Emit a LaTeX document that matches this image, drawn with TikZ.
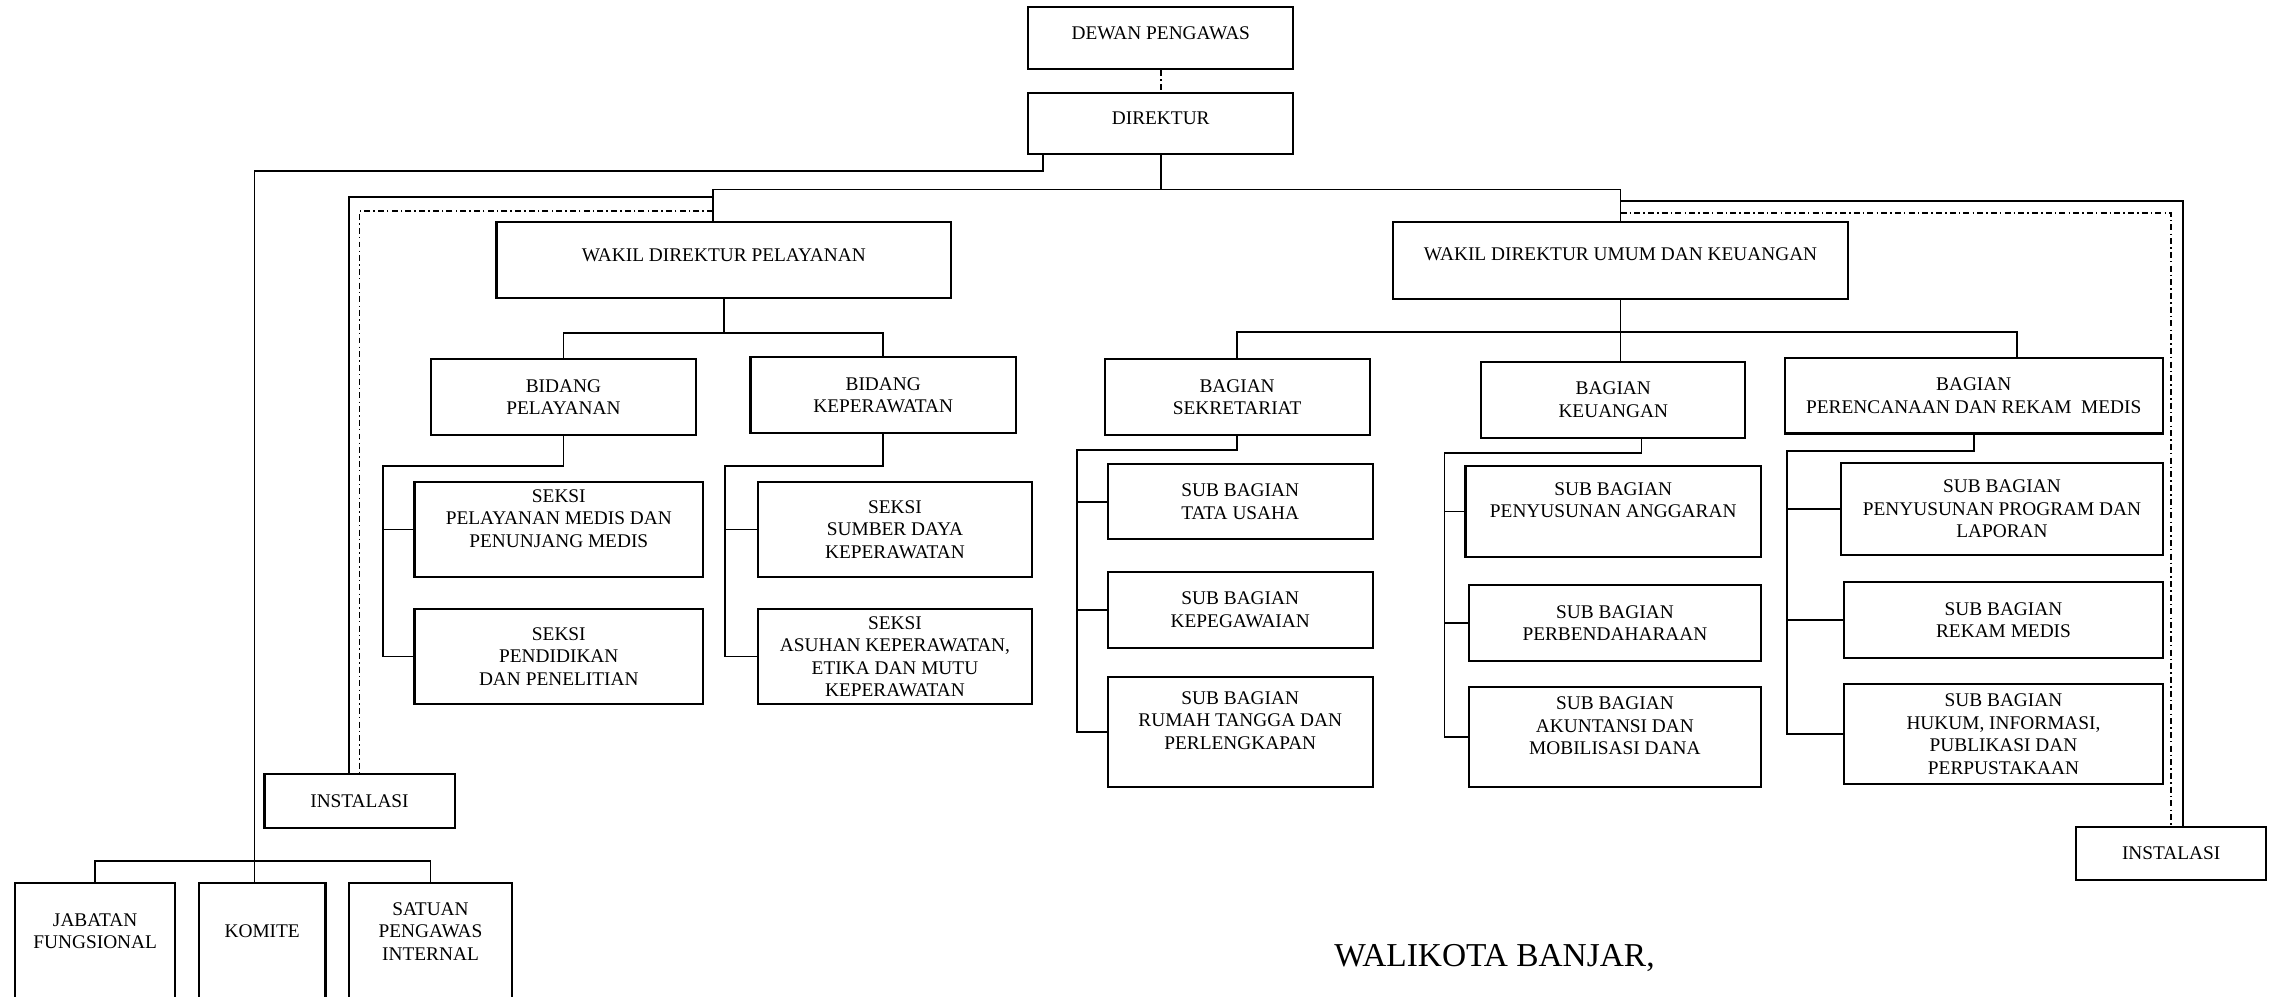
\documentclass[tikz,border=0pt]{standalone}
\usepackage{fontspec}
\setmainfont{Liberation Serif}

\begin{document}
\begin{tikzpicture}[x=0.01cm, y=-0.01cm]
	\tikzstyle{kotak}=[draw=black, line width=0.6pt, align=center, inner sep=0pt, font=\fontsize{5.5}{6.4}\selectfont];
	\tikzstyle{garis}=[line width=0.5pt];
	\tikzstyle{koordinasi}=[line width=0.5pt, dash pattern=on 1.7pt off 0.9pt on 0.4pt off 0.9pt];

	\path[use as bounding box, clip] (0, 0) rectangle (2275, 997);

	\node (dewan) at (1160.75, 38) [kotak, minimum width=2.645cm, minimum height=0.62cm, text depth=2.8pt] {DEWAN PENGAWAS};
	\node (direktur) at (1160.75, 123.5) [kotak, minimum width=2.645cm, minimum height=0.61cm, text depth=3.2pt] {DIREKTUR};
	\node (wakilpel) at (723.8, 260) [kotak, minimum width=4.544cm, minimum height=0.76cm, text depth=2.8pt] {WAKIL DIREKTUR PELAYANAN};
	\node (wakilumum) at (1620.6, 260.5) [kotak, minimum width=4.546cm, minimum height=0.77cm, text depth=3.8pt] {WAKIL DIREKTUR UMUM DAN KEUANGAN};

	\node (bidpel) at (563.4, 397) [kotak, minimum width=2.653cm, minimum height=0.76cm] {BIDANG\\PELAYANAN};
	\node (bidkep) at (883.2, 395) [kotak, minimum width=2.652cm, minimum height=0.76cm] {BIDANG\\KEPERAWATAN};
	\node (seksi1) at (558.8, 529.5) [kotak, minimum width=2.884cm, minimum height=0.95cm] {SEKSI\\PELAYANAN MEDIS DAN\\PENUNJANG MEDIS\\~};
	\node (seksi2) at (558.8, 656.5) [kotak, minimum width=2.884cm, minimum height=0.95cm] {SEKSI\\PENDIDIKAN\\DAN PENELITIAN};
	\node (seksi3) at (895, 529.5) [kotak, minimum width=2.74cm, minimum height=0.95cm] {SEKSI\\SUMBER DAYA\\KEPERAWATAN};
	\node (seksi4) at (895, 656.5) [kotak, minimum width=2.74cm, minimum height=0.95cm] {SEKSI\\ASUHAN KEPERAWATAN,\\ETIKA DAN MUTU\\KEPERAWATAN};

	\node (bagsek) at (1237.1, 397.3) [kotak, minimum width=2.648cm, minimum height=0.76cm] {BAGIAN\\SEKRETARIAT};
	\node (bagkeu) at (1613.3, 399.9) [kotak, minimum width=2.64cm, minimum height=0.757cm] {BAGIAN\\KEUANGAN};
	\node (bagren) at (1973.75, 395.75) [kotak, minimum width=3.775cm, minimum height=0.755cm] {BAGIAN\\PERENCANAAN DAN REKAM \ MEDIS};

	\node (sub1) at (1240.25, 501.7) [kotak, minimum width=2.649cm, minimum height=0.753cm] {SUB BAGIAN\\TATA USAHA};
	\node (sub2) at (1240.25, 609.7) [kotak, minimum width=2.649cm, minimum height=0.76cm] {SUB BAGIAN\\KEPEGAWAIAN};
	\node (sub3) at (1240.25, 731.7) [kotak, minimum width=2.649cm, minimum height=1.1cm] {SUB BAGIAN\\RUMAH TANGGA DAN\\PERLENGKAPAN\\~};
	\node (sub4) at (1613.25, 511.5) [kotak, minimum width=2.953cm, minimum height=0.916cm] {SUB BAGIAN\\PENYUSUNAN ANGGARAN\\~};
	\node (sub5) at (1614.9, 622.9) [kotak, minimum width=2.9225cm, minimum height=0.757cm] {SUB BAGIAN\\PERBENDAHARAAN};
	\node (sub6) at (1614.9, 736.9) [kotak, minimum width=2.9225cm, minimum height=0.997cm] {SUB BAGIAN\\AKUNTANSI DAN\\MOBILISASI DANA\\~};
	\node (sub7) at (2001.95, 509) [kotak, minimum width=3.211cm, minimum height=0.914cm] {SUB BAGIAN\\PENYUSUNAN PROGRAM DAN\\LAPORAN};
	\node (sub8) at (2003.5, 620.2) [kotak, minimum width=3.18cm, minimum height=0.757cm] {SUB BAGIAN\\REKAM MEDIS};
	\node (sub9) at (2003.5, 734.2) [kotak, minimum width=3.18cm, minimum height=0.997cm] {SUB BAGIAN\\HUKUM, INFORMASI,\\PUBLIKASI DAN\\PERPUSTAKAAN};

	\node (inst1) at (359.5, 801) [kotak, minimum width=1.9cm, minimum height=0.54cm] {INSTALASI};
	\node (inst2) at (2171.2, 853.4) [kotak, minimum width=1.896cm, minimum height=0.533cm] {INSTALASI};

	\node (jabatan) at (95.2, 942.5) [kotak, minimum width=1.596cm, minimum height=1.19cm] {JABATAN\\FUNGSIONAL\\~};
	\node (komite) at (262.2, 942.5) [kotak, minimum width=1.265cm, minimum height=1.19cm] {KOMITE\\~};
	\node (satuan) at (430.5, 942.5) [kotak, minimum width=1.63cm, minimum height=1.19cm] {SATUAN\\PENGAWAS\\INTERNAL\\~};

	\node (walikota) at (1494.5, 958.3) [font=\fontsize{9.5}{11}\selectfont] {WALIKOTA BANJAR,};

	\coordinate (barL) at (713, 189.5);
	\coordinate (barR) at (wakilumum.north |- barL);
	\coordinate (dirout) at (1043, 154);
	\coordinate (kom) at (254.6, 171);
	\coordinate (fbar) at (254.6, 861);
	\coordinate (insolidL) at (349, 196.7);
	\coordinate (indashL) at (inst1.north |- 0, 211);
	\coordinate (insolidR) at (2183.3, 200.7);
	\coordinate (indashR) at (inst2.north |- 0, 212.7);
	\coordinate (pbar) at (wakilpel.south |- 0, 333);
	\coordinate (ubar) at (wakilumum.south |- 0, 332);
	\coordinate (pspine) at (383, 466);
	\coordinate (kspine) at (724.7, 465.7);
	\coordinate (sspine) at (1077.3, 450);
	\coordinate (kuspine) at (1444.5, 453);
	\coordinate (rspine) at (1786.7, 451);

	\draw[koordinasi] (dewan) -- (direktur);
	\draw[garis] (direktur.south) -- (direktur.south |- barL);
	\draw[garis] (barL |- wakilpel.north) -- (barL) -- (barR) -- (wakilumum.north);
	\draw[garis] (dirout) |- (kom) -- (kom |- komite.north);
	\draw[garis] (jabatan.north) |- (fbar) -| (satuan.north);

	\draw[garis] (barL |- insolidL) -- (insolidL) -- (insolidL |- inst1.north);
	\draw[koordinasi] (barL |- indashL) -- (indashL) -- (inst1.north);
	\draw[garis] (barR |- insolidR) -- (insolidR) -- (insolidR |- inst2.north);
	\draw[koordinasi] (barR |- indashR) -- (indashR) -- (inst2.north);

	\draw[garis] (wakilpel.south) -- (pbar);
	\draw[garis] (bidpel.north) |- (pbar) -| (bidkep.north);
	\draw[garis] (bidpel.south) |- (pspine) |- (seksi2.west);
	\draw[garis] (pspine |- seksi1.west) -- (seksi1.west);
	\draw[garis] (bidkep.south) |- (kspine) |- (seksi4.west);
	\draw[garis] (kspine |- seksi3.west) -- (seksi3.west);

	\draw[garis] (wakilumum.south) -- (wakilumum.south |- bagkeu.north);
	\draw[garis] (bagsek.north) |- (ubar) -| ([xshift=0.4325cm]bagren.north);
	\draw[garis] (bagsek.south) |- (sspine) |- (sub3.west);
	\draw[garis] (sspine |- sub1.west) -- (sub1.west);
	\draw[garis] (sspine |- sub2.west) -- (sub2.west);
	\draw[garis] ([xshift=0.281cm]bagkeu.south) |- (kuspine) |- (sub6.west);
	\draw[garis] (kuspine |- sub4.west) -- (sub4.west);
	\draw[garis] (kuspine |- sub5.west) -- (sub5.west);
	\draw[garis] (bagren.south) |- (rspine) |- (sub9.west);
	\draw[garis] (rspine |- sub7.west) -- (sub7.west);
	\draw[garis] (rspine |- sub8.west) -- (sub8.west);

\end{tikzpicture}
\end{document}
